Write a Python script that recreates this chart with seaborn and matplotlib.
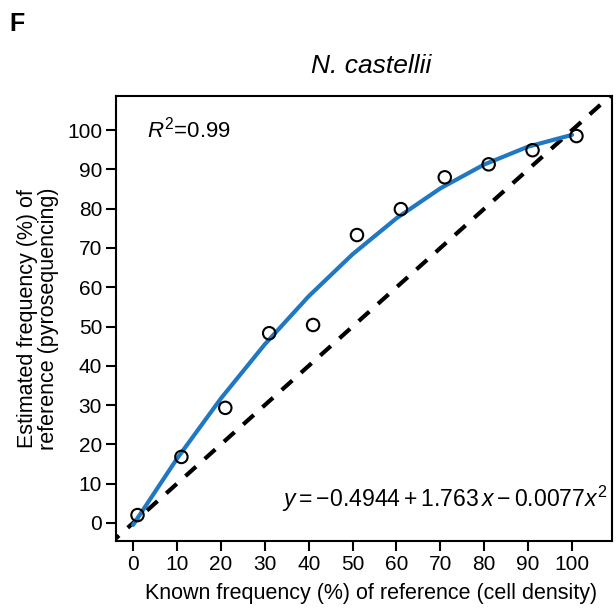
import matplotlib
matplotlib.use("Agg")
import matplotlib.pyplot as plt
import seaborn as sns
import pandas as pd

# Data
known = [1, 11, 21, 31, 41, 51, 61, 71, 81, 91, 101]
estimated = [2.0, 16.8, 29.3, 48.3, 50.4, 73.3, 79.9, 88.0, 91.3, 94.9, 98.5]
fit_x = [0, 10, 20, 30, 40, 50, 60, 70, 80, 90, 100]
fit_y = [-0.49, 16.37, 31.69, 45.47, 57.71, 68.41, 77.57, 85.19, 91.27, 95.81, 98.81]
diag = [-10, 120]
ticks = [0, 10, 20, 30, 40, 50, 60, 70, 80, 90, 100]

sns.set_theme(style="ticks")
plt.rcParams['font.family'] = ['Liberation Sans', 'DejaVu Sans']
plt.rcParams['mathtext.fontset'] = 'custom'
plt.rcParams['mathtext.rm'] = 'Liberation Sans'
plt.rcParams['mathtext.it'] = 'Liberation Sans:italic'
plt.rcParams['text.color'] = 'black'
plt.rcParams['axes.labelcolor'] = 'black'
plt.rcParams['xtick.color'] = 'black'
plt.rcParams['ytick.color'] = 'black'

fig = plt.figure(figsize=(6.16, 6.09), dpi=100)
ax = fig.add_axes([116/616, 1-541/609, (612-116)/616, (541-96)/609])

pts = pd.DataFrame({"x": known, "y": estimated})
fit = pd.DataFrame({"x": fit_x, "y": fit_y})
dg = pd.DataFrame({"x": diag, "y": diag})

sns.lineplot(data=dg, x="x", y="y", ax=ax, color="black", lw=3, zorder=2)
ax.lines[-1].set_dashes([3.4, 2.8])
sns.lineplot(data=fit, x="x", y="y", ax=ax, color="#1f78c1", lw=3, zorder=3)
sns.scatterplot(data=pts, x="x", y="y", ax=ax, s=80, edgecolor="black",
                linewidth=1.5, zorder=4, marker="o")
for c in ax.collections:
    c.set_facecolor("none")
    c.set_edgecolor("black")

ax.set_xlim(-3.9, 109.1)
ax.set_ylim(-4.6, 108.7)
ax.set_xticks(ticks)
ax.set_yticks(ticks)
ax.tick_params(labelsize=15, length=7, width=1.5, color="black", pad=3)
for s in ax.spines.values():
    s.set_linewidth(1.5)
    s.set_color("black")
    s.set_visible(True)

ax.set_xlabel("Known frequency (%) of reference (cell density)", fontsize=15.5, labelpad=8)
ax.xaxis.set_label_coords(0.515, -0.095)
ax.set_ylabel("Estimated frequency (%) of\nreference (pyrosequencing)", fontsize=15.5,
              labelpad=6, linespacing=1.0)

fig.text(371/616, 1-66/609, "N. castellii", fontsize=19, style="italic", va="center", ha="center")

ax.text(0.062, 0.924, r"$R^2$=0.99", transform=ax.transAxes, fontsize=16, va="center", ha="left")
ax.text(0.99, 0.095, r"$y = -0.4944 + 1.763\,x - 0.0077x^2$", transform=ax.transAxes,
        fontsize=16.6, va="center", ha="right")

fig.text(9/616, 1-24/609, "F", fontsize=18, fontweight="bold", va="center", ha="left")

fig.savefig("out.png", dpi=100)
